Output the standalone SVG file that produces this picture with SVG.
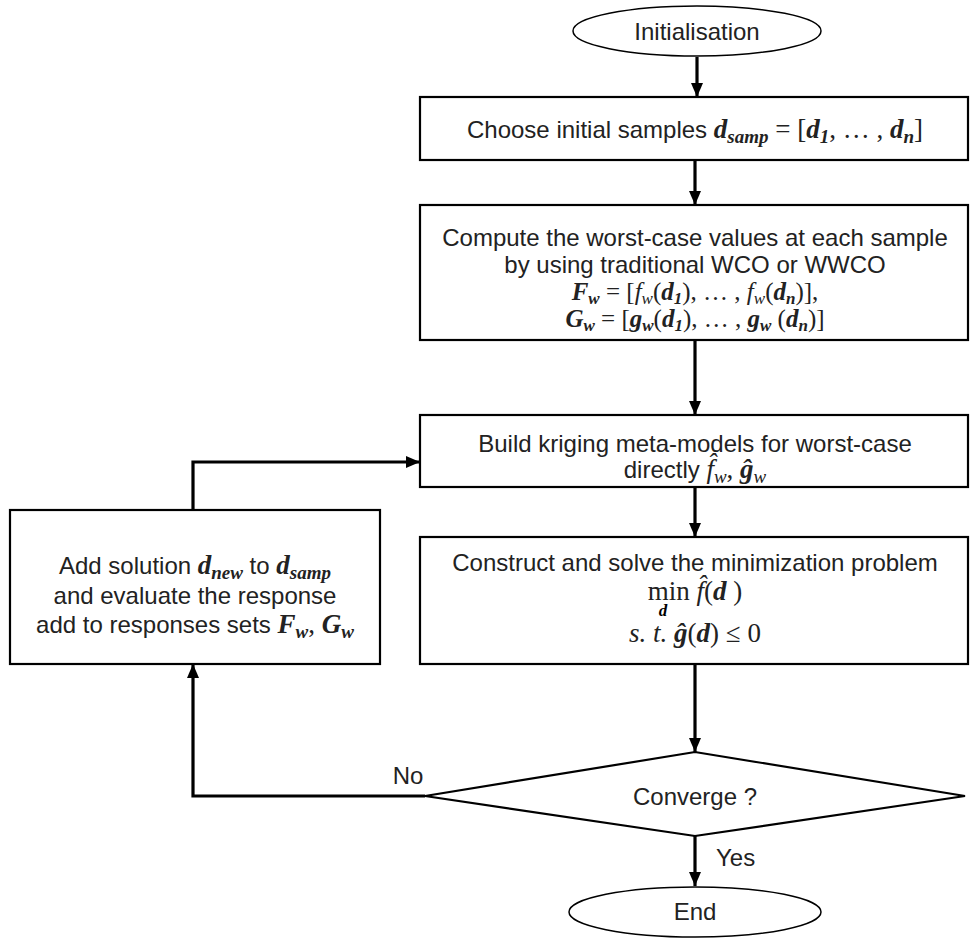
<svg xmlns="http://www.w3.org/2000/svg" width="971" height="940" viewBox="0 0 971 940">
<defs>
<marker id="arr" markerUnits="userSpaceOnUse" markerWidth="14" markerHeight="12" refX="14" refY="6" orient="auto">
<path d="M0,0 L14,6 L0,12 z" fill="#000"/>
</marker>
<style>
.box{fill:#fff;stroke:#000;stroke-width:2.2}
.t{font-family:"Liberation Sans",Arial,sans-serif;font-size:24px;fill:#222;text-anchor:middle}
.bi{font-family:"Liberation Serif","DejaVu Serif",serif;font-style:italic;font-weight:bold;font-size:27px}
.it{font-family:"Liberation Serif","DejaVu Serif",serif;font-style:italic;font-size:27px}
.up{font-family:"Liberation Serif","DejaVu Serif",serif;font-size:27px}
.sb{font-size:19px}
.sm .bi,.sm .it,.sm .up{font-size:25px}
.sm .sb{font-size:17px}
.con{fill:none;stroke:#000;stroke-width:3.2}
</style>
</defs>
<rect width="971" height="940" fill="#fff"/>

<g id="connectors">
<line class="con" x1="697" y1="57" x2="697" y2="97" marker-end="url(#arr)"/>
<line class="con" x1="695" y1="160" x2="695" y2="205" marker-end="url(#arr)"/>
<line class="con" x1="695" y1="340" x2="695" y2="415" marker-end="url(#arr)"/>
<line class="con" x1="695" y1="487" x2="695" y2="537" marker-end="url(#arr)"/>
<line class="con" x1="695" y1="664" x2="695" y2="752" marker-end="url(#arr)"/>
<line class="con" x1="695" y1="836" x2="695" y2="886" marker-end="url(#arr)"/>
<polyline class="con" points="425,796 193,796 193,664" marker-end="url(#arr)"/>
<polyline class="con" points="193,510 193,462 420,462" marker-end="url(#arr)"/>
<text class="t" x="408" y="784">No</text>
<text class="t" x="716" y="866" style="text-anchor:start">Yes</text>
</g>

<g id="start">
<ellipse cx="697" cy="31" rx="124" ry="25" fill="#fff" stroke="#000" stroke-width="1.5"/>
<text class="t" x="697" y="40">Initialisation</text>
</g>

<g id="box1">
<rect class="box" x="420" y="97" width="548" height="63"/>
<text class="t" x="695" y="138">Choose initial samples <tspan class="bi">d</tspan><tspan class="bi sb" dy="5">samp</tspan><tspan class="up" dy="-5"> = [</tspan><tspan class="bi">d</tspan><tspan class="bi sb" dy="5">1</tspan><tspan class="up" dy="-5">, … , </tspan><tspan class="bi">d</tspan><tspan class="bi sb" dy="5">n</tspan><tspan class="up" dy="-5">]</tspan></text>
</g>

<g id="box2">
<rect class="box" x="420" y="205" width="548" height="135"/>
<text class="t" x="695" y="246">Compute the worst-case values at each sample</text>
<text class="t" x="695" y="273">by using traditional WCO or WWCO</text>
<text class="t sm" x="695" y="300"><tspan class="bi">F</tspan><tspan class="bi sb" dy="4">w</tspan><tspan class="up" dy="-4"> = [</tspan><tspan class="it">f</tspan><tspan class="it sb" dy="4">w</tspan><tspan class="up" dy="-4">(</tspan><tspan class="bi">d</tspan><tspan class="bi sb" dy="4">1</tspan><tspan class="up" dy="-4">), … , </tspan><tspan class="it">f</tspan><tspan class="it sb" dy="4">w</tspan><tspan class="up" dy="-4">(</tspan><tspan class="bi">d</tspan><tspan class="bi sb" dy="4">n</tspan><tspan class="up" dy="-4">)],</tspan></text>
<text class="t sm" x="695" y="327"><tspan class="bi">G</tspan><tspan class="bi sb" dy="4">w</tspan><tspan class="up" dy="-4"> = [</tspan><tspan class="bi">g</tspan><tspan class="bi sb" dy="4">w</tspan><tspan class="up" dy="-4">(</tspan><tspan class="bi">d</tspan><tspan class="bi sb" dy="4">1</tspan><tspan class="up" dy="-4">), … , </tspan><tspan class="bi">g</tspan><tspan class="bi sb" dy="4">w</tspan><tspan class="up" dy="-4"> (</tspan><tspan class="bi">d</tspan><tspan class="bi sb" dy="4">n</tspan><tspan class="up" dy="-4">)]</tspan></text>
</g>

<g id="box3">
<rect class="box" x="420" y="415" width="548" height="72"/>
<text class="t" x="695" y="452">Build kriging meta-models for worst-case</text>
<text class="t" x="695" y="478">directly <tspan class="it">f̂</tspan><tspan class="it sb" dy="5">w</tspan><tspan class="up" dy="-5">, </tspan><tspan class="bi">ĝ</tspan><tspan class="it sb" dy="5">w</tspan></text>
</g>

<g id="box4">
<rect class="box" x="420" y="537" width="548" height="127"/>
<text class="t" x="695" y="571">Construct and solve the minimization problem</text>
<text class="t" x="695" y="600"><tspan class="up">min </tspan><tspan class="it">f̂</tspan><tspan class="up">(</tspan><tspan class="bi">d</tspan><tspan class="up"> )</tspan></text>
<text class="bi" x="663" y="616" style="font-size:17px" text-anchor="middle">d</text>
<text class="t" x="695" y="642"><tspan class="it">s. t. </tspan><tspan class="bi">ĝ</tspan><tspan class="up">(</tspan><tspan class="bi">d</tspan><tspan class="up">) ≤ 0</tspan></text>
</g>

<g id="box5">
<rect class="box" x="10" y="510" width="370" height="154"/>
<text class="t" x="195" y="574">Add solution <tspan class="bi">d</tspan><tspan class="bi sb" dy="5">new</tspan><tspan dy="-5"> to </tspan><tspan class="bi">d</tspan><tspan class="bi sb" dy="5">samp</tspan></text>
<text class="t" x="195" y="604">and evaluate the response</text>
<text class="t" x="195" y="633">add to responses sets <tspan class="bi">F</tspan><tspan class="bi sb" dy="5">w</tspan><tspan class="up" dy="-5">, </tspan><tspan class="bi">G</tspan><tspan class="bi sb" dy="5">w</tspan></text>
</g>

<g id="decision">
<polygon points="425,796 695,752 965,796 695,836" fill="#fff" stroke="#000" stroke-width="2.2"/>
<text class="t" x="695" y="805">Converge ?</text>
</g>

<g id="end">
<ellipse cx="695" cy="912" rx="126" ry="25" fill="#fff" stroke="#000" stroke-width="1.5"/>
<text class="t" x="695" y="920">End</text>
</g>
</svg>
